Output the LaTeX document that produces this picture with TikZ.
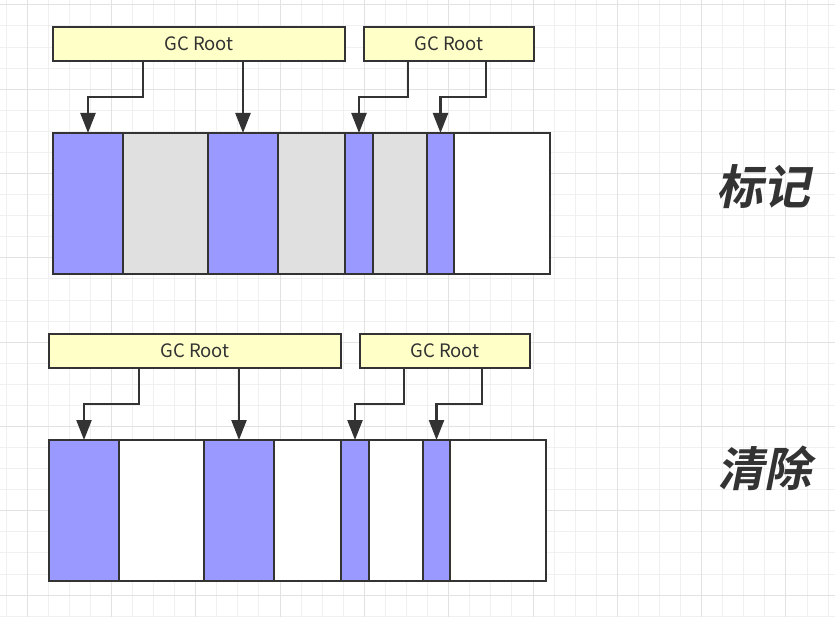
\documentclass[tikz,border=0pt]{standalone}
\usepackage{fontspec}
\newfontfamily\boxfont{Noto Sans CJK SC}
\newfontfamily\tagfont{Noto Sans CJK SC Bold}[FakeSlant=0.2]
\usetikzlibrary{arrows.meta,positioning,calc}
\definecolor{live}{HTML}{9999FF}
\definecolor{dead}{HTML}{E0E0E0}
\definecolor{rootfill}{HTML}{FFFFC8}
\definecolor{ink}{HTML}{333333}
\definecolor{gridminor}{HTML}{F0F0F0}
\definecolor{gridmajor}{HTML}{E2E2E2}

\begin{document}
\begin{tikzpicture}[x=1pt, y=-1pt,
  cell/.style={draw=ink, line width=2.4pt, anchor=north west, inner sep=0pt,
               outer sep=0pt, minimum height=141pt},
  root/.style={draw=ink, line width=2.4pt, fill=rootfill, anchor=north west,
               inner sep=0pt, outer sep=0pt, minimum height=34pt,
               font=\boxfont\fontsize{18.5}{18.5}\selectfont, text=ink},
  arr/.style={draw=ink, line width=2.4pt, -{Triangle[length=20pt,width=15pt]}},
  tag/.style={font=\tagfont\fontsize{47}{47}\selectfont, text=ink}]
  \useasboundingbox (0,0) rectangle (835,617);
  \fill[white] (0,0) rectangle (835,617);
  % background grid
  \foreach \k in {0,...,39}
    \draw[gridminor, line width=1pt] ({6+21.08*\k},0) -- ++(0,617);
  \foreach \k in {0,...,29}
    \draw[gridminor, line width=1pt] (0,{4.9+21.08*\k}) -- ++(835,0);
  \foreach \k in {1,5,...,37}
    \draw[gridmajor, line width=1pt] ({6+21.08*\k},0) -- ++(0,617);
  \foreach \k in {0,4,...,28}
    \draw[gridmajor, line width=1pt] (0,{4.9+21.08*\k}) -- ++(835,0);

  % mark phase
  \node[root, minimum width=292pt] (mr1) at (53,27) {GC Root};
  \node[root, minimum width=170pt] (mr2) at (364,27) {GC Root};
  \node[cell, fill=live,  minimum width=70pt] (m1) at (53,133) {};
  \node[cell, fill=dead,  minimum width=85pt] (m2) at (123,133) {};
  \node[cell, fill=live,  minimum width=70pt] (m3) at (208,133) {};
  \node[cell, fill=dead,  minimum width=67pt] (m4) at (278,133) {};
  \node[cell, fill=live,  minimum width=28pt] (m5) at (345,133) {};
  \node[cell, fill=dead,  minimum width=54pt] (m6) at (373,133) {};
  \node[cell, fill=live,  minimum width=27pt] (m7) at (427,133) {};
  \node[cell, fill=white, minimum width=96pt] (m8) at (454,133) {};
  \draw[arr] ([xshift=90pt]mr1.south west) -- ++(0,36) -| (m1.north);
  \draw[arr] (mr1.south -| m3.north) -- (m3.north);
  \draw[arr] ([xshift=44pt]mr2.south west) -- ++(0,36) -| (m5.north);
  \draw[arr] ([xshift=122pt]mr2.south west) -- ++(0,36) -| (m7.north);
  \node[tag] (mark) at (763,187) {标记};

  % sweep phase
  \begin{scope}[shift={(-4,307)}]
    \node[root, minimum width=292pt] (sr1) at (53,27) {GC Root};
    \node[root, minimum width=170pt] (sr2) at (364,27) {GC Root};
    \node[cell, fill=live,  minimum width=70pt] (s1) at (53,133) {};
    \node[cell, fill=white, minimum width=85pt] (s2) at (123,133) {};
    \node[cell, fill=live,  minimum width=70pt] (s3) at (208,133) {};
    \node[cell, fill=white, minimum width=67pt] (s4) at (278,133) {};
    \node[cell, fill=live,  minimum width=28pt] (s5) at (345,133) {};
    \node[cell, fill=white, minimum width=54pt] (s6) at (373,133) {};
    \node[cell, fill=live,  minimum width=27pt] (s7) at (427,133) {};
    \node[cell, fill=white, minimum width=96pt] (s8) at (454,133) {};
    \draw[arr] ([xshift=90pt]sr1.south west) -- ++(0,36) -| (s1.north);
    \draw[arr] (sr1.south -| s3.north) -- (s3.north);
    \draw[arr] ([xshift=44pt]sr2.south west) -- ++(0,36) -| (s5.north);
    \draw[arr] ([xshift=122pt]sr2.south west) -- ++(0,36) -| (s7.north);
  \end{scope}
  \node[tag] (sweep) at (764,468) {清除};
\end{tikzpicture}
\end{document}
